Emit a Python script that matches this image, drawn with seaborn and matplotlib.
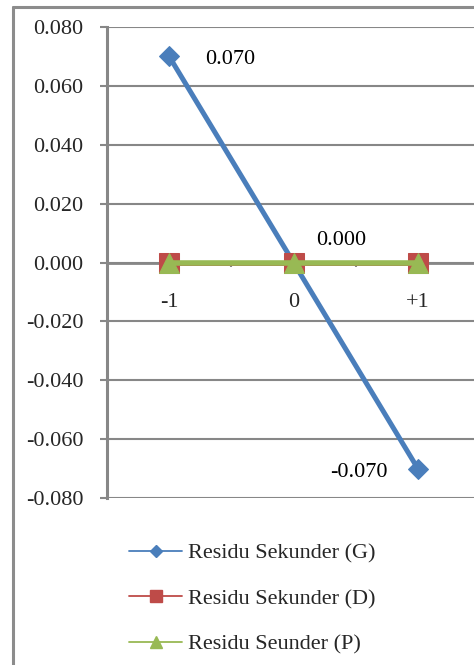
import numpy as np
import pandas as pd
import matplotlib
matplotlib.use("Agg")
import matplotlib.pyplot as plt
from matplotlib.lines import Line2D
from matplotlib.ticker import FixedLocator
import seaborn as sns

# Data
categories = ["-1", "0", "+1"]
residu_g = [0.070, 0.000, -0.070]
residu_d = [0.000, 0.000, 0.000]
residu_p = [0.000, 0.000, 0.000]
series_names = ["Residu Sekunder (G)", "Residu Sekunder (D)", "Residu Seunder (P)"]
y_ticks = [-0.080, -0.060, -0.040, -0.020, 0.000, 0.020, 0.040, 0.060, 0.080]

sns.set_style("white")
plt.rcParams["font.family"] = ["Liberation Serif", "DejaVu Serif"]
plt.rcParams["axes.unicode_minus"] = False

colors = ["#4A7EBB", "#BE4B48", "#98B954"]
markers = ["D", "s", "^"]
msizes = [10.5, 15, 14.5]
lws = [3.6, 3.6, 4.0]
grid_col = "#878787"

fig = plt.figure(figsize=(4.74, 6.65), dpi=100)
ax = fig.add_axes([107 / 474, 1 - 498 / 665, 373 / 474, 471 / 665])

pos = np.arange(len(categories))
df = pd.DataFrame({"pos": pos, "G": residu_g, "D": residu_d, "P": residu_p})

for col, c, m, ms, lw in zip(["G", "D", "P"], colors, markers, msizes, lws):
    sns.lineplot(data=df, x="pos", y=col, ax=ax, color=c, marker=m,
                 markersize=ms, markeredgecolor=c, linewidth=lw,
                 legend=False, zorder=3)

# data labels (blue series)
offsets = [(26, -2.5, "left"), (16, 15.5, "left"), (-22, -2.5, "right")]
for x, v, (dx, dy, ha) in zip(pos, residu_g, offsets):
    ax.annotate(f"{v:.3f}", (x, v), xytext=(dx, dy), textcoords="offset points",
                ha=ha, va="center", fontsize=16, color="black")

ax.set_xlim(-0.5, 2.5)
ax.set_ylim(-0.080, 0.080)
ax.set_yticks(y_ticks)
ax.set_yticklabels([f"{v:.3f}" for v in y_ticks])
ax.set_xticks(pos)
ax.set_xticklabels(categories)
ax.xaxis.set_minor_locator(FixedLocator([0.5, 1.5]))
ax.set_xlabel("")
ax.set_ylabel("")

ax.grid(axis="y", color=grid_col, linewidth=1.5, zorder=0)
ax.set_axisbelow(True)
for s in ["top", "right"]:
    ax.spines[s].set_visible(False)
ax.spines["left"].set_color(grid_col)
ax.spines["left"].set_linewidth(2.2)
ax.spines["bottom"].set_color(grid_col)
ax.spines["bottom"].set_linewidth(2.0)
ax.spines["bottom"].set_position(("data", 0))

ax.tick_params(axis="y", which="major", direction="out", length=5, width=1.5,
               color=grid_col, pad=12, left=True, labelsize=16)
ax.tick_params(axis="x", which="major", length=0, pad=22, labelsize=16)
ax.tick_params(axis="x", which="minor", direction="out", length=3, width=1.5,
               color=grid_col, bottom=True)

handles = [Line2D([], [], color=c, marker=m, markersize=s, lw=1.3, markeredgecolor=c)
           for c, m, s in zip(colors, markers, [6.5, 9, 9])]
fig.legend(handles, series_names, loc="upper left",
           bbox_to_anchor=(129 / 474, 1 - 543 / 665), frameon=False,
           fontsize=16, handlelength=2.4, handletextpad=0.25,
           labelspacing=1.13, borderpad=0, borderaxespad=0)

# chart area border (left and top edges)
border_col = "#8C8C8C"
fig.add_artist(Line2D([13 / 474, 13 / 474], [0, 1 - 7 / 665],
                      transform=fig.transFigure, color=border_col, lw=2.2))
fig.add_artist(Line2D([13 / 474, 1], [1 - 7 / 665, 1 - 7 / 665],
                      transform=fig.transFigure, color=border_col, lw=2.2))

fig.savefig("out.png", dpi=100)
